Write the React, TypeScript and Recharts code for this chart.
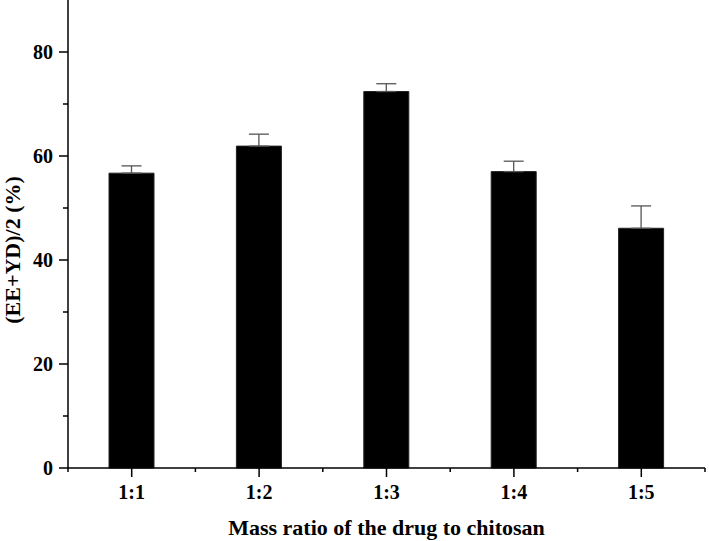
import React from 'react';
import { BarChart, Bar, XAxis, YAxis, ErrorBar } from 'recharts';

const ratios = ['1:1', '1:2', '1:3', '1:4', '1:5'];
const meanValues = [56.7, 61.9, 72.4, 57.0, 46.1];
const upperErrors = [1.4, 2.3, 1.5, 2.0, 4.3];
const yTicks = [0, 10, 20, 30, 40, 50, 60, 70, 80];

const FONT = '"Liberation Serif", "Times New Roman", serif';

const YTick = (props: any) => {
  const { x, y, payload } = props;
  const major = payload.value % 20 === 0;
  return (
    <g>
      <line x1={x - (major ? 9 : 5)} x2={x} y1={y} y2={y} stroke="#000" strokeWidth={1.5} />
      {major && (
        <text x={x - 15} y={y} dy="0.35em" textAnchor="end" fontFamily={FONT} fontWeight="bold" fontSize={20} fill="#000">
          {payload.value}
        </text>
      )}
    </g>
  );
};

const XTick = (props: any) => {
  const { x, y, payload, index, width, visibleTicksCount } = props;
  const band = (width || 637) / (visibleTicksCount || ratios.length);
  return (
    <g>
      <line x1={x} x2={x} y1={y} y2={y + 9} stroke="#000" strokeWidth={1.5} />
      <line x1={x + band / 2} x2={x + band / 2} y1={y} y2={y + 4} stroke="#000" strokeWidth={1.5} />
      {index === 0 && <line x1={x - band / 2} x2={x - band / 2} y1={y} y2={y + 4} stroke="#000" strokeWidth={1.5} />}
      <text x={x} y={y + 31} textAnchor="middle" fontFamily={FONT} fontWeight="bold" fontSize={20} fill="#000">
        {payload.value}
      </text>
    </g>
  );
};

const YTitle = (props: any) => {
  const vb = props.viewBox;
  const cx = vb.x + 12;
  const cy = vb.y + vb.height / 2 + 16;
  return (
    <text x={cx} y={cy} dy="0.35em" textAnchor="middle" transform={`rotate(-90, ${cx}, ${cy})`} fontFamily={FONT} fontWeight="bold" fontSize={22} fill="#000">
      (EE+YD)/2 (%)
    </text>
  );
};

const XTitle = (props: any) => {
  const vb = props.viewBox;
  return (
    <text x={vb.x + vb.width / 2} y={vb.y + 67} textAnchor="middle" fontFamily={FONT} fontWeight="bold" fontSize={22} fill="#000">
      Mass ratio of the drug to chitosan
    </text>
  );
};

export default function App() {
  const data = ratios.map((name, i) => ({
    name,
    value: meanValues[i],
    err: [0, upperErrors[i]],
  }));

  return (
    <div style={{ position: 'absolute', left: 0, top: 0, background: '#fff' }}>
      <BarChart width={709} height={541} data={data} margin={{ top: 0, right: 4, left: 0, bottom: 0 }} barSize={45}>
        <XAxis
          dataKey="name"
          height={73}
          stroke="#000"
          strokeWidth={1.5}
          tickLine={false}
          tickSize={0}
          tickMargin={0}
          tick={<XTick />}
          interval={0}
          label={<XTitle />}
        />
        <YAxis
          width={68}
          domain={[0, 90]}
          ticks={yTicks}
          stroke="#000"
          strokeWidth={1.5}
          tickLine={false}
          tickSize={0}
          tickMargin={0}
          tick={<YTick />}
          interval={0}
          label={<YTitle />}
        />
        <Bar dataKey="value" fill="#000" stroke="#222" isAnimationActive={false}>
          <ErrorBar dataKey="err" direction="y" width={10} stroke="#555" strokeWidth={1.3} />
        </Bar>
      </BarChart>
    </div>
  );
}
